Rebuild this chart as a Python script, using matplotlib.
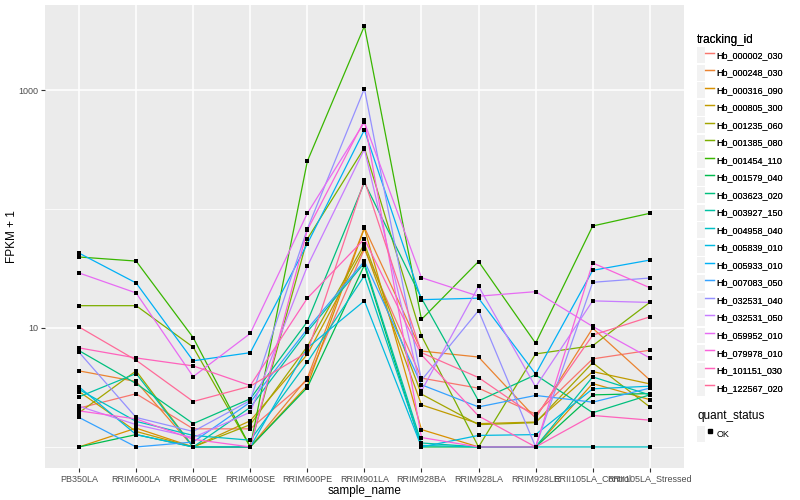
import numpy as np
import matplotlib
matplotlib.use("Agg")
import matplotlib.pyplot as plt
from matplotlib.lines import Line2D
from matplotlib.patches import Rectangle
from matplotlib.legend_handler import HandlerTuple
from matplotlib.ticker import FixedLocator, NullFormatter

# =========================
# DATA (FPKM, plotted as FPKM + 1)
# =========================
samples = ["PB350LA", "RRIM600LA", "RRIM600LE", "RRIM600SE", "RRIM600PE",
           "RRIM901LA", "RRIM928BA", "RRIM928LA", "RRIM928LE",
           "RRII105LA_Control", "RRII105LA_Stressed"]

tracking_ids = ["Hb_000002_030", "Hb_000248_030", "Hb_000316_090", "Hb_000805_300",
                "Hb_001235_060", "Hb_001385_080", "Hb_001454_110", "Hb_001579_040",
                "Hb_003623_020", "Hb_003927_150", "Hb_004958_040", "Hb_005839_010",
                "Hb_005933_010", "Hb_007083_050", "Hb_032531_040", "Hb_032531_050",
                "Hb_059952_010", "Hb_079978_010", "Hb_101151_030", "Hb_122567_020"]

hb_000002_030 = [1.12, 1.8, 0.42, 0.42, 2.64, 45, 2.79, 2.12, 0.89, 4.5, 5.5]
hb_000248_030 = [3.36, 2.55, 0, 0, 2.79, 69, 5.4, 4.7, 0.75, 8.96, 2.66]
hb_000316_090 = [0, 0.44, 0, 0, 2.28, 68, 0.40, 0, 0, 2.41, 1.5]
hb_000805_300 = [1.92, 0.35, 0, 0.66, 5.0, 46.6, 1.26, 0.57, 0.62, 3.3, 2.39]
hb_001235_060 = [0.94, 3.36, 0, 0.54, 6.0, 50, 1.78, 0.54, 0.60, 4.1, 1.17]
hb_001385_080 = [14.4, 14.4, 5.9, 0, 55, 326, 7.6, 0, 5.05, 6.1, 15.4]
hb_001454_110 = [38.5, 35.5, 7.3, 0, 251, 3449, 10.8, 35.2, 6.45, 71, 91]
hb_001579_040 = [0, 0.27, 0, 0, 2.16, 32.8, 0, 0, 0, 1.74, 1.81]
hb_003623_020 = [5.45, 2.41, 0.57, 1.54, 10.3, 166, 16.8, 1.44, 3.04, 0.94, 1.74]
hb_003927_150 = [1.64, 3.14, 0, 1.15, 8.3, 34.2, 0.08, 0, 0, 2.88, 1.74]
hb_004958_040 = [2.04, 0.64, 0.25, 0.14, 4.16, 26.5, 0.03, 0, 0, 0, 0]
hb_005839_010 = [2.2, 0.27, 0, 0, 5.8, 15.9, 0, 0.25, 0.27, 2.08, 2.24]
hb_005933_010 = [41.6, 22.9, 4.3, 5.2, 50, 461, 16.3, 16.8, 3.1, 29.5, 36.2]
hb_007083_050 = [0.77, 0, 0.10, 1.38, 8.8, 35.5, 2.33, 1.17, 1.71, 1.38, 2.12]
hb_032531_040 = [5.25, 0.77, 0.35, 1.46, 67, 1027, 2.64, 13.0, 0, 23.2, 25.3]
hb_032531_050 = [1.2, 0.54, 0.20, 0.96, 32, 317, 1.96, 21.4, 2.2, 15.9, 15.4]
hb_059952_010 = [28, 18.7, 2.9, 8.0, 91, 535, 25.5, 17.5, 19.2, 9.3, 4.6]
hb_079978_010 = [1.01, 0.72, 0.16, 0, 65.5, 556, 0.20, 0, 0, 34.2, 20.8]
hb_101151_030 = [5.8, 4.6, 3.8, 2.28, 16.8, 55, 4.95, 0.82, 0, 0.84, 0.68]
hb_122567_020 = [9.2, 4.36, 1.41, 2.24, 5.25, 173, 5.2, 2.83, 0.79, 7.7, 11.4]

series = [hb_000002_030, hb_000248_030, hb_000316_090, hb_000805_300, hb_001235_060,
          hb_001385_080, hb_001454_110, hb_001579_040, hb_003623_020, hb_003927_150,
          hb_004958_040, hb_005839_010, hb_005933_010, hb_007083_050, hb_032531_040,
          hb_032531_050, hb_059952_010, hb_079978_010, hb_101151_030, hb_122567_020]


# ggplot-like hue palette (hcl, c=100, l=65)
def hue_pal(n, c=100, l=65):
    hues = np.linspace(15, 375, n + 1)[:-1]
    xn, yn, zn = 95.047, 100.0, 108.883
    un = 4 * xn / (xn + 15 * yn + 3 * zn)
    vn = 9 * yn / (xn + 15 * yn + 3 * zn)
    out = []
    for h in hues:
        u = c * np.cos(np.radians(h))
        v = c * np.sin(np.radians(h))
        Y = yn * ((l + 16) / 116) ** 3
        up = u / (13 * l) + un
        vp = v / (13 * l) + vn
        X = Y * 9 * up / (4 * vp)
        Z = Y * (12 - 3 * up - 20 * vp) / (4 * vp)
        X, Y, Z = X / 100, Y / 100, Z / 100
        rgb = [3.240479 * X - 1.537150 * Y - 0.498535 * Z,
               -0.969256 * X + 1.875992 * Y + 0.041556 * Z,
               0.055648 * X - 0.204043 * Y + 1.057311 * Z]
        rgb = [12.92 * ch if ch <= 0.0031308 else 1.055 * ch ** (1 / 2.4) - 0.055 for ch in rgb]
        out.append(tuple(min(max(ch, 0), 1) for ch in rgb))
    return out


colors = hue_pal(len(tracking_ids))

# =========================
# PLOT
# =========================
plt.rcParams["font.family"] = ["Liberation Sans", "DejaVu Sans"]

fig = plt.figure(figsize=(8, 5), dpi=100)
ax = fig.add_axes([0.056, 0.064, 0.799, 0.926])
ax.set_facecolor("#EBEBEB")

x = np.arange(len(samples))
for vals, col in zip(series, colors):
    ax.plot(x, np.array(vals) + 1, color=col, lw=0.9, zorder=3)
for vals in series:
    ax.scatter(x, np.array(vals) + 1, s=9, color="black", marker="s", zorder=4, linewidths=0)

ax.set_yscale("log")
all_vals = np.log10(np.concatenate([np.array(v) + 1 for v in series]))
lo, hi = all_vals.min(), all_vals.max()
pad = (hi - lo) * 0.05
ax.set_ylim(10 ** (lo - pad), 10 ** (hi + pad))
ax.set_xlim(-0.6, len(samples) - 0.4)

ax.yaxis.set_major_locator(FixedLocator([10, 1000]))
ax.set_yticklabels(["10", "1000"])
ax.yaxis.set_minor_locator(FixedLocator([1, 100]))
ax.yaxis.set_minor_formatter(NullFormatter())
ax.set_xticks(x)
ax.set_xticklabels(samples)

ax.grid(which="major", color="white", lw=1.1, zorder=0)
ax.grid(which="minor", axis="y", color="white", lw=0.55, zorder=0)
ax.set_axisbelow(True)
for s in ax.spines.values():
    s.set_visible(False)
ax.tick_params(which="major", length=2.7, width=0.8, color="#333333",
               labelsize=6.5, labelcolor="#4D4D4D", pad=2)
ax.tick_params(which="minor", length=0)

ax.set_xlabel("sample_name", fontsize=8.5, labelpad=1)
ax.set_ylabel("FPKM + 1", fontsize=8.5, labelpad=0)

# legends
hmap = {tuple: HandlerTuple(ndivide=None, pad=0)}
handles = [(Rectangle((0, 0), 1, 1, facecolor="#F2F2F2", edgecolor="none"),
            Line2D([], [], color=c, lw=0.9)) for c in colors]
leg1 = fig.legend(handles, tracking_ids, title="tracking_id", loc="upper left",
                  bbox_to_anchor=(0.866, 0.942), frameon=False, fontsize=6.5,
                  title_fontsize=8.5, alignment="left", handler_map=hmap,
                  handlelength=1.8, handleheight=2.3, labelspacing=0.2,
                  handletextpad=0.35, borderpad=0)
fig.add_artist(leg1)

ok_handle = (Rectangle((0, 0), 1, 1, facecolor="#F2F2F2", edgecolor="none"),
             Line2D([], [], color="black", marker="s", markersize=2.6, linestyle="none"))
leg2 = fig.legend([ok_handle], ["OK"], title="quant_status", loc="upper left",
                  bbox_to_anchor=(0.866, 0.19), frameon=False, fontsize=6.5,
                  title_fontsize=8.5, alignment="left", handler_map=hmap,
                  handlelength=1.8, handleheight=2.3, handletextpad=0.35, borderpad=0)

fig.savefig("out.png", dpi=100)
